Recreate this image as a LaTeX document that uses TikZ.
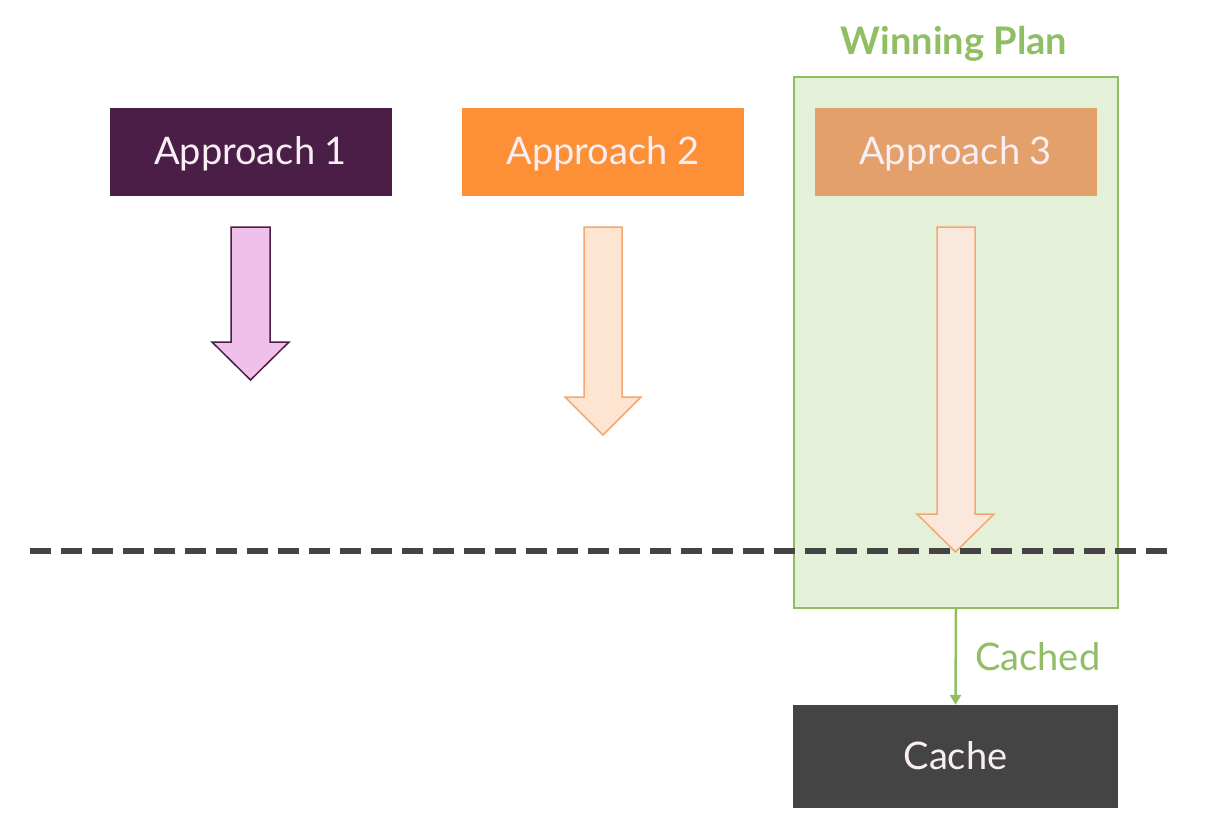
\documentclass[tikz,border=0pt]{standalone}
\usepackage{fontspec}
\setmainfont{Lato}
\usetikzlibrary{arrows.meta}
\definecolor{purp}{HTML}{4A1E47}
\definecolor{orng}{HTML}{FD8F36}
\definecolor{orng3}{HTML}{E3A06A}
\definecolor{grfill}{HTML}{E5F0D8}
\definecolor{grline}{HTML}{8FBE63}
\definecolor{pinkfill}{HTML}{EEC0EA}
\definecolor{peach}{HTML}{FEE5D2}
\definecolor{peach3}{HTML}{F9E8DB}
\definecolor{arrline}{HTML}{F4A871}
\definecolor{darkgray}{HTML}{444444}
\definecolor{txtlight}{HTML}{F8EEF4}
\begin{document}
\begin{tikzpicture}[x=1pt,y=-1pt,
  bigfont/.style={font=\fontsize{38}{42}\selectfont},
  appbox/.style={draw=none,minimum width=282pt,minimum height=88pt,inner sep=0pt,text=txtlight,bigfont,text depth=3pt},
  blockarrow/.style={line width=1.5pt,line join=miter}]
\useasboundingbox (0,0) rectangle (1208,833);
\fill[white] (0,0) rectangle (1208,833);
% winning plan frame
\node[draw=grline,fill=grfill,line width=1.5pt,minimum width=324pt,minimum height=531pt,inner sep=0pt] (win) at (956,342.5) {};
\node[text=grline,font=\bfseries\fontsize{38}{42}\selectfont] (wintitle) at (954,44) {Winning Plan};
% approach boxes
\node[appbox,fill=purp] (a1) at (250.5,152) {Approach 1};
\node[appbox,fill=orng] (a2) at (603,152) {Approach 2};
\node[appbox,fill=orng3] (a3) at (955.5,152) {Approach 3};
% block arrows
\draw[blockarrow,draw=purp,fill=pinkfill] (231,227) -- (270,227) -- (270,342) -- (289,342) -- (250.5,380) -- (212,342) -- (231,342) -- cycle;
\draw[blockarrow,draw=arrline,fill=peach] (584,227) -- (622,227) -- (622,397) -- (641,397) -- (603,435) -- (565,397) -- (584,397) -- cycle;
\draw[blockarrow,draw=arrline,fill=peach3] (937,227) -- (975,227) -- (975,514) -- (994,514) -- (955.5,552) -- (917,514) -- (937,514) -- cycle;
% dashed line
\coordinate (dl) at (30,551);
\coordinate (dr) at (1176,551);
\draw[darkgray,line width=5.5pt,dash pattern=on 21pt off 10pt] (dl) -- (dr);
% cache
\node[fill=darkgray,minimum width=325pt,minimum height=103pt,inner sep=0pt,text=txtlight,bigfont,text depth=3pt] (cache) at (955.5,756.5) {Cache};
\draw[grline,line width=2.5pt,-{Triangle[length=10pt,width=11pt]}] (win.south) -- (cache.north) node[midway,right=15pt,text=grline,bigfont] (lbl) {Cached};
\end{tikzpicture}
\end{document}
